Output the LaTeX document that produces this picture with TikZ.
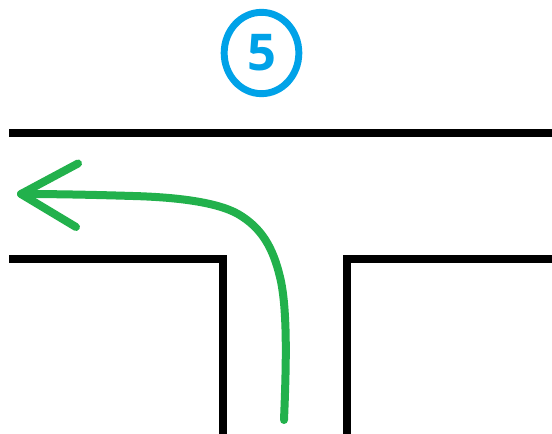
\documentclass[tikz,border=0pt]{standalone}
\usepackage{fontspec}
\setmainfont{Open Sans}
\usetikzlibrary{shapes.geometric}
\definecolor{roadblack}{RGB}{0,0,0}
\definecolor{routegreen}{RGB}{34,177,76}
\definecolor{markblue}{RGB}{0,162,232}
\tikzset{
  road/.style={draw=roadblack,line width=6pt,line cap=butt,line join=miter},
  route/.style={draw=routegreen,line width=6pt,line cap=round,line join=round},
  badge/.style={ellipse,draw=markblue,line width=5.2pt,text=markblue,minimum width=56pt,minimum height=61pt,inner sep=0pt,font=\bfseries\fontsize{38pt}{38pt}\selectfont}
}
\begin{document}
\begin{tikzpicture}[x=0.75pt,y=-0.75pt]
\useasboundingbox (0,0) rectangle (552,434);
\node[badge] (five) at (261.5,53) {5};
\coordinate (topL) at (9,133.5);
\coordinate (topR) at (552,133.5);
\draw[road] (topL) -- (topR);
\coordinate (lA) at (9,258.7);
\coordinate (lB) at (223.3,258.7);
\coordinate (lC) at (223.3,434);
\draw[road] (lA) -- (lB) -- (lC);
\coordinate (rA) at (552,258.7);
\coordinate (rB) at (347,258.7);
\coordinate (rC) at (347,434);
\draw[road] (rA) -- (rB) -- (rC);
\coordinate (start) at (284,420);
\coordinate (tip) at (21,194);
\coordinate (barbU) at (78,163.5);
\coordinate (barbD) at (76,227);
\draw[route] (start) .. controls (286,370) and (288,310) .. (280,277) .. controls (273,248) and (262,228) .. (238,214) .. controls (215,201) and (170,197) .. (133,196) .. controls (100,195) and (60,194) .. (tip);
\draw[route] (barbU) -- (tip) -- (barbD);
\end{tikzpicture}
\end{document}
